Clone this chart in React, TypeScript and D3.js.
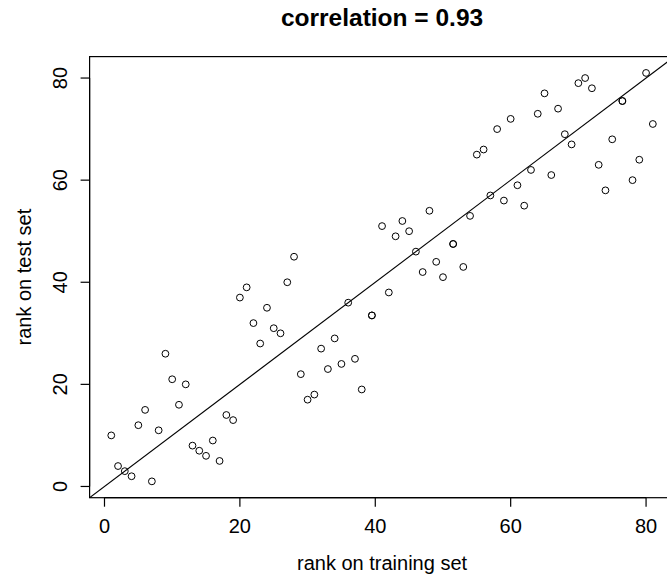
import React from "react";
import * as d3 from "d3";

const trainRank = [
  1, 2, 3, 4, 5, 6, 7, 8, 9, 10, 11, 12, 13, 14, 15, 16, 17, 18, 19, 20,
  21, 22, 23, 24, 25, 26, 27, 28, 29, 30, 31, 32, 33, 34, 35, 36, 37, 38,
  39.5, 39.5, 41, 42, 43, 44, 45, 46, 47, 48, 49, 50, 51.5, 51.5, 53, 54,
  55, 56, 57, 58, 59, 60, 61, 62, 63, 64, 65, 66, 67, 68, 69, 70, 71, 72,
  73, 74, 75, 76.5, 76.5, 78, 79, 80, 81,
];
const testRank = [
  10, 4, 3, 2, 12, 15, 1, 11, 26, 21, 16, 20, 8, 7, 6, 9, 5, 14, 13, 37,
  39, 32, 28, 35, 31, 30, 40, 45, 22, 17, 18, 27, 23, 29, 24, 36, 25, 19,
  33.5, 33.5, 51, 38, 49, 52, 50, 46, 42, 54, 44, 41, 47.5, 47.5, 43, 53,
  65, 66, 57, 70, 56, 72, 59, 55, 62, 73, 77, 61, 74, 69, 67, 79, 80, 78,
  63, 58, 68, 75.5, 75.5, 60, 64, 81, 71,
];
const xTicks = [0, 20, 40, 60, 80];
const yTicks = [0, 20, 40, 60, 80];
const titleText = "correlation = 0.93";
const xLabel = "rank on training set";
const yLabel = "rank on test set";

export default function App() {
  const W = 667;
  const H = 577;
  const left = 89.6;
  const right = 674.5;
  const top = 56.6;
  const bottom = 497.7;
  const lo = -2.2;
  const hi = 84.2;
  const x = d3.scaleLinear().domain([lo, hi]).range([left, right]);
  const y = d3.scaleLinear().domain([lo, hi]).range([bottom, top]);
  const font = "'Liberation Sans', Arial, Helvetica, sans-serif";
  const fs = 20;
  const tick = 9;
  const line = d3.line<number>().x((d) => x(d)).y((d) => y(d));
  const pts = trainRank.map((t, i) => ({ t, r: testRank[i] }));
  return (
    <svg
      width={W}
      height={H}
      style={{ position: "fixed", left: 0, top: 0, background: "#fff" }}
      fontFamily={font}
    >
      <defs>
        <clipPath id="plotclip">
          <rect x={left} y={top} width={right - left} height={bottom - top} />
        </clipPath>
      </defs>
      <rect x={0} y={0} width={W} height={H} fill="#fff" />
      <text
        x={(left + right) / 2}
        y={26}
        textAnchor="middle"
        fontWeight="bold"
        fontSize={24.5}
        fill="#000"
      >
        {titleText}
      </text>
      <rect
        x={left}
        y={top}
        width={right - left}
        height={bottom - top}
        fill="none"
        stroke="#000"
        strokeWidth={1.2}
      />
      {/* x axis */}
      <line
        x1={x(xTicks[0])}
        x2={x(xTicks[xTicks.length - 1])}
        y1={bottom}
        y2={bottom}
        stroke="#000"
        strokeWidth={1.2}
      />
      {xTicks.map((t) => (
        <g key={"xt" + t}>
          <line x1={x(t)} x2={x(t)} y1={bottom} y2={bottom + tick} stroke="#000" strokeWidth={1.2} />
          <text x={x(t)} y={533} textAnchor="middle" fontSize={fs} fill="#000">
            {t}
          </text>
        </g>
      ))}
      {/* y axis */}
      <line
        x1={left}
        x2={left}
        y1={y(yTicks[0])}
        y2={y(yTicks[yTicks.length - 1])}
        stroke="#000"
        strokeWidth={1.2}
      />
      {yTicks.map((t) => (
        <g key={"yt" + t}>
          <line x1={left - tick} x2={left} y1={y(t)} y2={y(t)} stroke="#000" strokeWidth={1.2} />
          <text
            transform={`translate(67,${y(t)}) rotate(-90)`}
            textAnchor="middle"
            fontSize={fs}
            fill="#000"
          >
            {t}
          </text>
        </g>
      ))}
      <text x={(left + right) / 2} y={570} textAnchor="middle" fontSize={fs} fill="#000">
        {xLabel}
      </text>
      <text
        transform={`translate(31,${(top + bottom) / 2}) rotate(-90)`}
        textAnchor="middle"
        fontSize={fs}
        fill="#000"
      >
        {yLabel}
      </text>
      <g clipPath="url(#plotclip)">
        <path d={line([lo, hi]) || ""} stroke="#000" strokeWidth={1.1} fill="none" />
        {pts.map((p, i) => (
          <circle
            key={i}
            cx={x(p.t)}
            cy={y(p.r)}
            r={3.4}
            fill="none"
            stroke="#000"
            strokeWidth={1}
          />
        ))}
      </g>
    </svg>
  );
}
